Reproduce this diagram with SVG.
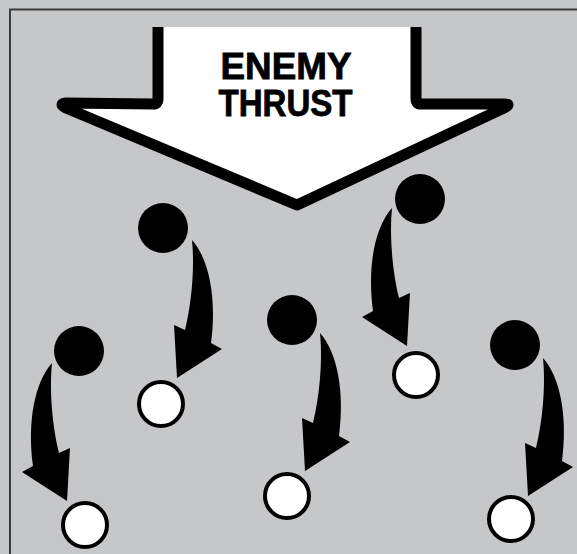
<svg xmlns="http://www.w3.org/2000/svg" width="577" height="554" viewBox="0 0 577 554">
<style>
.lbl{font-family:"Liberation Sans",Arial,sans-serif;font-weight:bold;font-size:36px;fill:#000;stroke:#000;stroke-width:0.8}
.enemy{fill:#000}
.friend{fill:#fff;stroke:#000;stroke-width:4}
.move{fill:#000}
</style>
<defs>
<path id="curl" d="M0 0 C17 19 25 58 19 103 L30 109 L-15 138 L-18 85 L-7 90 C-1 66 3 30 0 0 Z"/>
</defs>
<rect x="0" y="0" width="577" height="554" fill="#c6c7c9"/>
<path d="M10 580 L10 9.5 L600 9.5" fill="none" stroke="#3a3a3a" stroke-width="2"/>
<g id="thrust">
<path d="M158 27 L158 99 Q158 104 153 104 L66 103 Q58 104 66 108 L297 205 L504 108 Q512 104 504 104 L421 104 Q416 104 416 99 L416 27 Z" fill="#fff"/>
<path d="M158 27 L158 99 Q158 104 153 104 L66 103 Q58 104 66 108 L297 205 L504 108 Q512 104 504 104 L421 104 Q416 104 416 99 L416 27" fill="none" stroke="#000" stroke-width="11" stroke-linejoin="round" stroke-linecap="butt"/>
<text class="lbl" x="286" y="79" text-anchor="middle" textLength="131" lengthAdjust="spacingAndGlyphs">ENEMY</text>
<text class="lbl" x="285.5" y="116" text-anchor="middle" textLength="134" lengthAdjust="spacingAndGlyphs">THRUST</text>
</g>
<g id="enemy1"><circle class="enemy" cx="163" cy="228" r="25"/></g>
<g id="enemy2"><circle class="enemy" cx="79" cy="351" r="25"/></g>
<g id="enemy3"><circle class="enemy" cx="292" cy="320" r="25"/></g>
<g id="enemy4"><circle class="enemy" cx="420" cy="199" r="25"/></g>
<g id="enemy5"><circle class="enemy" cx="515" cy="345" r="25"/></g>
<g id="friend1"><circle class="friend" cx="161" cy="404" r="22"/></g>
<g id="friend2"><circle class="friend" cx="85" cy="525" r="22"/></g>
<g id="friend3"><circle class="friend" cx="287" cy="496" r="22"/></g>
<g id="friend4"><circle class="friend" cx="416" cy="375" r="22"/></g>
<g id="friend5"><circle class="friend" cx="511" cy="519" r="22"/></g>
<g id="connectors" class="move">
<use href="#curl" transform="translate(192 240)"/>
<use href="#curl" transform="translate(52 363) scale(-1 1)"/>
<use href="#curl" transform="translate(320 333)"/>
<use href="#curl" transform="translate(392 208) scale(-1 1)"/>
<use href="#curl" transform="translate(543 358)"/>
</g>
</svg>
